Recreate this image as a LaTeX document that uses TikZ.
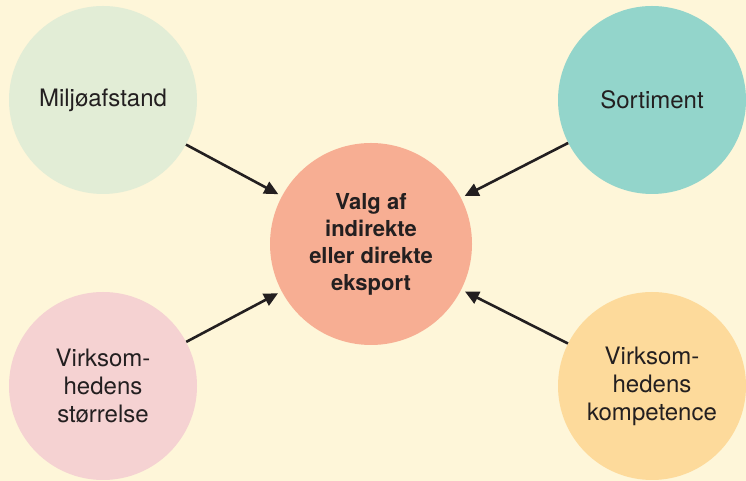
\documentclass[tikz,border=0pt]{standalone}
\usepackage{fontspec}
\setmainfont{TeX Gyre Heros}
\usetikzlibrary{positioning, arrows.meta}
\definecolor{bgcream}{HTML}{FEF6D9}
\definecolor{txtdark}{HTML}{231F20}
\definecolor{greenfill}{HTML}{E2EDD6}
\definecolor{tealfill}{HTML}{93D5CB}
\definecolor{salmonfill}{HTML}{F7AE93}
\definecolor{pinkfill}{HTML}{F5D2D2}
\definecolor{orangefill}{HTML}{FDDA9B}
\tikzset{factor/.style={circle, minimum size=188pt, inner sep=0pt, align=center,
    text=txtdark, font=\fontsize{24}{28}\selectfont},
  choice/.style={circle, minimum size=202pt, inner sep=0pt, align=center,
    fill=salmonfill, text=txtdark, font=\bfseries\fontsize{22}{27}\selectfont},
  influence/.style={line width=2.6pt, draw=txtdark, shorten >=4pt,
    -{Triangle[length=14pt,width=13pt]}}}

\begin{document}
\begin{tikzpicture}[x=1pt, y=1pt]
  \fill[bgcream] (0,0) rectangle (746,481);
  \useasboundingbox (0,0) rectangle (746,481);

  \node[choice] (valg) at (371,237) {Valg af\\indirekte\\eller direkte\\eksport};

  \node[factor, fill=greenfill] (miljo) at (103,381) {Miljøafstand};
  \node[factor, fill=tealfill] (sortiment) at (652,381) {Sortiment};
  \node[factor, fill=pinkfill] (storrelse) at (103,95) {Virksom-\\hedens\\størrelse};
  \node[factor, fill=orangefill] (kompetence) at (652,95) {Virksom-\\hedens\\kompetence};

  \draw[influence] (miljo) -- (valg);
  \draw[influence] (sortiment) -- (valg);
  \draw[influence] (storrelse) -- (valg);
  \draw[influence] (kompetence) -- (valg);
\end{tikzpicture}
\end{document}
